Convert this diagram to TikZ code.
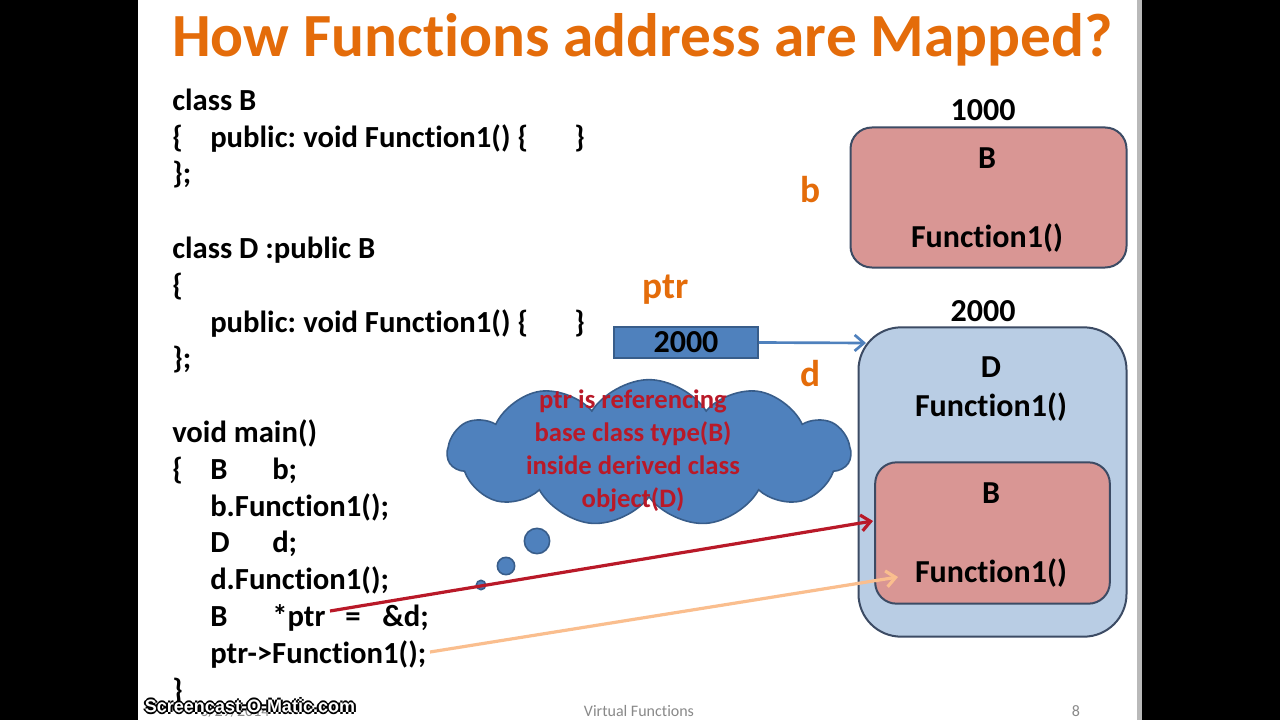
\documentclass[tikz,border=0pt]{standalone}
\usepackage{fontspec}
\setmainfont{Carlito}[Ligatures=NoCommon]
\newfontfamily\wmfont{Liberation Sans}
\usetikzlibrary{shapes.symbols,arrows.meta}
\definecolor{titleorange}{RGB}{228,108,10}
\definecolor{pinkfill}{RGB}{217,150,148}
\definecolor{bluefill}{RGB}{185,205,228}
\definecolor{steel}{RGB}{79,129,189}
\definecolor{steeldark}{RGB}{56,93,138}
\definecolor{boxedge}{RGB}{60,75,100}
\definecolor{noteRed}{RGB}{185,25,40}
\definecolor{peach}{RGB}{250,190,142}
\definecolor{footgray}{RGB}{137,137,137}
\tikzset{
    code/.style={anchor=base west, inner sep=0pt, font=\fontsize{23}{27}\selectfont\bfseries},
    boxtext/.style={inner sep=0pt, font=\fontsize{24}{28}\selectfont\bfseries},
    varname/.style={inner sep=0pt, text=titleorange, font=\fontsize{28}{32}\selectfont\bfseries},
    membox/.style={draw=boxedge, line width=1.5pt, rounded corners=16pt},
    pinkbox/.style={membox, fill=pinkfill},
    bubble/.style={circle, draw=steeldark, line width=1.2pt, fill=steel, inner sep=0pt},
    footer/.style={inner sep=0pt, text=footgray, font=\fontsize{12}{14}\selectfont},
    wmark/.style={inner sep=0pt, font=\wmfont\fontsize{13.5}{15}\selectfont\bfseries}
}
\begin{document}
\begin{tikzpicture}[x=0.75pt, y=-0.75pt]
    \useasboundingbox (0,0) rectangle (1280,720);
    \fill[black] (0,0) rectangle (1280,720);
    \fill[white] (138,0) rectangle (1137,720);
    \fill[gray!55] (1137,0) rectangle (1142,720);

    % title
    \node[anchor=base west, inner sep=0pt, text=titleorange,
        font=\fontsize{46}{52}\selectfont\bfseries] (title) at (172,57)
        {How Functions address are Mapped?};

    % code
    \node[code] (l1) at (172,111) {class B};
    \node[code] (l2a) at (172,148) {\{};
    \node[code] (l2b) at (210,148) {public:\hspace{-1.5pt} void Function1() \{};
    \node[code] (l2c) at (574,148) {\}};
    \node[code] (l3) at (172,184) {\};};
    \node[code] (l4) at (172,258) {class D :public B};
    \node[code] (l5) at (172,295) {\{};
    \node[code] (l6b) at (210,332) {public:\hspace{-1.5pt} void Function1() \{};
    \node[code] (l6c) at (574,332) {\}};
    \node[code] (l7) at (172,368) {\};};
    \node[code] (m1) at (172,442) {void main()};
    \node[code] (m2a) at (172,479) {\{};
    \node[code] (m2b) at (210,479) {B};
    \node[code] (m2c) at (272,479) {b;};
    \node[code] (m3) at (210,516) {b.Function1();};
    \node[code] (m4a) at (210,552) {D};
    \node[code] (m4b) at (272,552) {d;};
    \node[code] (m5) at (210,589) {d.Function1();};
    \node[code] (m6a) at (210,626) {B};
    \node[code] (m6b) at (272,626) {*ptr};
    \node[code] (m6c) at (345,626) {=};
    \node[code] (m6d) at (382,626) {\&d;};
    \node[code] (m7) at (210,663) {ptr->Function1();};
    \node[code] (m8) at (172,700) {\}};

    % object b
    \node[boxtext] (addrb) at (983,110) {1000};
    \node[pinkbox, minimum width=207pt, minimum height=105pt] (boxb) at (988.5,197.5) {};
    \node[boxtext] (boxbname) at (987,158) {B};
    \node[boxtext] (boxbfn) at (987,238) {Function1()};
    \node[varname] (varb) at (811,190) {b};

    % pointer
    \node[varname] (varptr) at (666,290) {ptr};
    \node[draw=steeldark, line width=1.2pt, fill=steel, minimum width=108pt, minimum height=23pt,
        inner sep=0pt, font=\fontsize{24}{28}\selectfont\bfseries] (ptrbox) at (686,342.5) {2000};

    % object d
    \node[boxtext] (addrd) at (983,311) {2000};
    \node[varname] (vard) at (811,374) {d};
    \node[membox, fill=bluefill, rounded corners=32pt, minimum width=201pt, minimum height=232pt] (boxd) at (992.5,482) {};
    \node[boxtext] (boxdname) at (991,367) {D};
    \node[boxtext] (boxdfn) at (991,407) {Function1()};
    \node[pinkbox, minimum width=176pt, minimum height=106pt] (innerb) at (992.5,533) {};
    \node[boxtext] (innerbname) at (991,493) {B};
    \node[boxtext] (innerbfn) at (991,573) {Function1()};

    % thought cloud
    \node[cloud, cloud puffs=11, cloud puff arc=115, aspect=2.7, draw=steeldark, line width=1.2pt,
        fill=steel, minimum width=302pt, minimum height=110pt, inner sep=0pt] (note) at (649,453) {};
    \node[align=center, inner sep=0pt, text=noteRed, font=\fontsize{20}{24.7}\selectfont\bfseries] (notetext) at (633,451)
        {ptr is referencing\\base class type(B)\\inside derived class\\object(D)};
    \node[bubble, minimum size=19pt] (bub1) at (537,541) {};
    \node[bubble, minimum size=13pt] (bub2) at (506,566) {};
    \node[bubble, minimum size=7pt] (bub3) at (481,585) {};

    % arrows
    \coordinate (ptrtail) at (330,611);
    \coordinate (redtip) at (873,521);
    \coordinate (calltail) at (430,652);
    \coordinate (peachtip) at (898,577);
    \coordinate (dtop) at (866,343);
    \draw[steel, line width=2pt, -{Straight Barb[length=7pt, width=12pt]}] (ptrbox.east) -- (dtop);
    \draw[noteRed, line width=2.4pt, -{Straight Barb[length=7pt, width=12pt]}] (ptrtail) -- (redtip);
    \draw[peach, line width=2.4pt, -{Straight Barb[length=7pt, width=12pt]}] (calltail) -- (peachtip);

    % footer
    \node[footer] (date) at (235,711) {6/29/2014};
    \node[footer] (foottitle) at (639,711) {Virtual Functions};
    \node[footer] (pagenum) at (1076,711) {8};
    \foreach \a in {0,90,180,270}
        \node[wmark, text=black] (wmo\a) at ([shift={(\a:2)}]250,706) {Screencast-O-Matic.com};
    \node[wmark, text=white] (wm) at (250,706) {Screencast-O-Matic.com};
\end{tikzpicture}
\end{document}
